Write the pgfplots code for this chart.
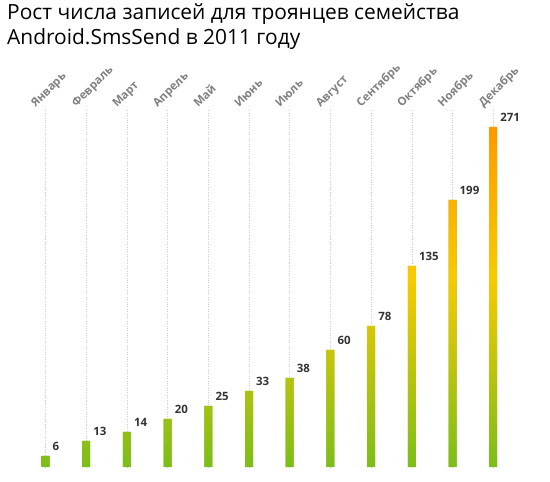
\documentclass[border=0pt]{standalone}
\usepackage{fontspec}
\setmainfont{Open Sans}
\usepackage{pgfplots}
\usepackage{pgfplotstable}
\pgfplotsset{compat=1.18}

\definecolor{gbot}{RGB}{124,189,26}
\definecolor{gmid}{RGB}{248,202,0}
\definecolor{gtop}{RGB}{255,140,0}
\definecolor{lbl}{RGB}{51,51,51}
\definecolor{mon}{RGB}{128,128,128}

% pgf fits the middle 25bp--75bp of a shading to the path
\pgfdeclareverticalshading{barshade}{100bp}{color(0bp)=(gbot); color(25bp)=(gbot);
  color(50bp)=(gmid); color(75bp)=(gtop); color(100bp)=(gtop)}

% h = drawn bar height (the bars are not to scale), val = printed value
\pgfplotstableread{
idx h   val
1   11  6
2   26  13
3   35  14
4   48  20
5   61  25
6   76  33
7   89  38
8   117 60
9   141 78
10  201 135
11  267 199
12  340 271
}\smssend

\begin{document}
\begin{tikzpicture}
\useasboundingbox (0,0) rectangle (550bp,482bp);

\node[anchor=base west, font=\fontsize{21}{25}\selectfont, inner sep=0]
  at (7bp,462bp) {Рост числа записей для троянцев семейства};
\node[anchor=base west, font=\fontsize{21}{25}\selectfont, inner sep=0]
  at (7bp,437bp) {Android.SmsSend в 2011 году};

\begin{axis}[
    at={(25.15bp,15bp)}, anchor=south west,
    scale only axis,
    width=488.4bp, height=357bp,
    xmin=0.5, xmax=12.5,
    ymin=0, ymax=357,
    axis line style={draw=none},
    ytick=\empty,
    xtick={1,...,12},
    xticklabels={Январь,Февраль,Март,Апрель,Май,Июнь,Июль,Август,Сентябрь,Октябрь,Ноябрь,Декабрь},
    xticklabel pos=right,
    major tick length=0pt,
    xmajorgrids,
    grid style={dotted, gray!40, line width=0.5pt},
    xticklabel style={xshift=-10bp, yshift=2bp, rotate=45, anchor=base west,
        inner sep=0pt, text=mon, font=\bfseries\fontsize{11.5}{13}\selectfont},
    clip=false,
]
\addplot[ybar, bar width=8bp, draw=none, fill=gbot,
    path picture={%
        \pgfpathrectanglecorners{\pgfplotspointaxisxy{0}{0}}{\pgfplotspointaxisxy{13}{380}}%
        \pgfshadepath{barshade}{0}%
        \pgfusepath{discard}}]
    table[x=idx, y=h] {\smssend};

\addplot[draw=none, mark=none,
    nodes near coords={\pgfplotspointmeta},
    point meta=explicit symbolic,
    nodes near coords style={anchor=south west, xshift=7bp, yshift=5bp,
        inner sep=0pt, text=lbl, font=\bfseries\fontsize{11.5}{13}\selectfont}]
    table[x=idx, y=h, meta=val] {\smssend};
\end{axis}
\end{tikzpicture}
\end{document}
